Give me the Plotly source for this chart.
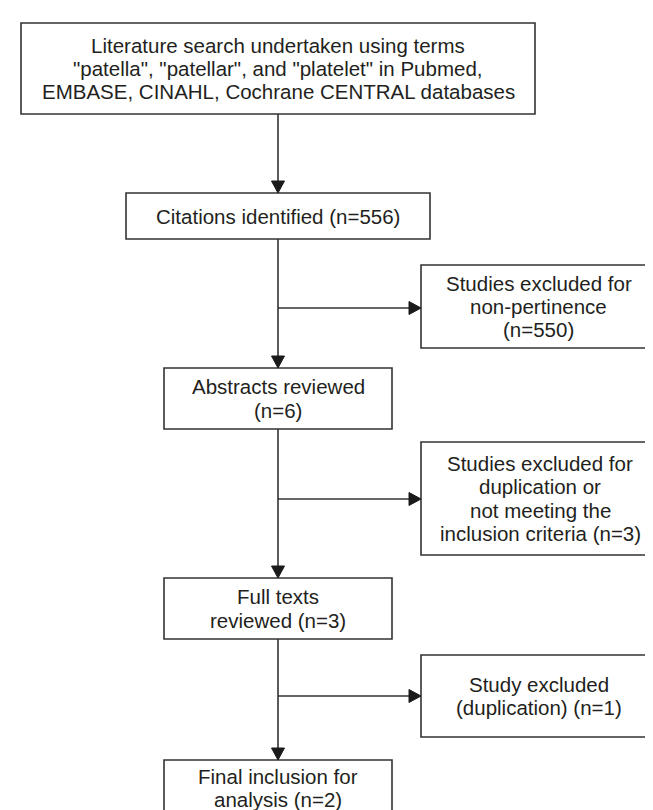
import plotly.graph_objects as go

# ---- content (texts and counts) ----
stage_labels = [
    ["Literature search undertaken using terms",
     "\"patella\", \"patellar\", and \"platelet\" in Pubmed,",
     "EMBASE, CINAHL, Cochrane CENTRAL databases"],
    ["Citations identified (n=556)"],
    ["Abstracts reviewed", "(n=6)"],
    ["Full texts", "reviewed (n=3)"],
    ["Final inclusion for", "analysis (n=2)"],
]
excluded_labels = [
    ["Studies excluded for", "non-pertinence", "(n=550)"],
    ["Studies excluded for", "duplication or", "not meeting the", "inclusion criteria (n=3)"],
    ["Study excluded", "(duplication) (n=1)"],
]
record_counts = [556, 6, 3, 2]
excluded_counts = [550, 3, 1]

# ---- layout (pixel geometry) ----
W, H = 653, 810
main_boxes = [(13, 527, 15, 106), (118, 422, 185, 231), (156, 384, 360, 421),
              (156, 384, 570, 631), (156, 384, 752, 808)]
excl_boxes = [(413, 648, 257, 340), (413, 651, 434, 547), (413, 648, 647, 729)]
branch_y = [300, 491, 688]
spine_x = 270

FONT = "Liberation Sans, Arial, sans-serif"
FSIZE = 20.5
LINE_H = 23.4
TXT = "#231f20"
LINE = "#333333"

fig = go.Figure()
shapes = []
annotations = []


def add_box(b, lines):
    x0, x1, y0, y1 = b
    shapes.append(dict(type="rect", x0=x0, x1=x1, y0=y0, y1=y1,
                       line=dict(color=LINE, width=1.6), fillcolor="white",
                       xref="x", yref="y", layer="below"))
    cy = (y0 + y1) / 2
    n = len(lines)
    for i, t in enumerate(lines):
        y = cy + (i - (n - 1) / 2) * LINE_H
        annotations.append(dict(x=(x0 + x1) / 2, y=y, text=t, showarrow=False,
                                xref="x", yref="y", xanchor="center", yanchor="middle",
                                font=dict(family=FONT, size=FSIZE, color=TXT)))


def add_arrow(x0, y0, x1, y1, head=12, half=6.5):
    # line from (x0,y0) to tip (x1,y1); straight vertical/horizontal
    if x0 == x1:
        d = 1 if y1 > y0 else -1
        by = y1 - d * head
        shapes.append(dict(type="line", x0=x0, x1=x0, y0=y0, y1=by,
                           line=dict(color=LINE, width=1.6), xref="x", yref="y"))
        path = f"M {x1-half},{by} L {x1+half},{by} L {x1},{y1} Z"
    else:
        d = 1 if x1 > x0 else -1
        bx = x1 - d * head
        shapes.append(dict(type="line", x0=x0, x1=bx, y0=y0, y1=y0,
                           line=dict(color=LINE, width=1.6), xref="x", yref="y"))
        path = f"M {bx},{y1-half} L {bx},{y1+half} L {x1},{y1} Z"
    shapes.append(dict(type="path", path=path, fillcolor="#1a1a1a",
                       line=dict(color="#1a1a1a", width=1), xref="x", yref="y"))


for b, lab in zip(main_boxes, stage_labels):
    add_box(b, lab)
for b, lab in zip(excl_boxes, excluded_labels):
    add_box(b, lab)

# vertical spine arrows between main boxes
for a, b in zip(main_boxes[:-1], main_boxes[1:]):
    add_arrow(spine_x, a[3], spine_x, b[2])

# branch arrows to exclusion boxes
for y, b in zip(branch_y, excl_boxes):
    add_arrow(spine_x, y, b[0], y)

fig.add_trace(go.Scatter(x=[0, W], y=[0, H], mode="markers",
                         marker=dict(opacity=0), hoverinfo="skip", showlegend=False))

fig.update_layout(
    width=W, height=H,
    margin=dict(l=0, r=0, t=0, b=0),
    paper_bgcolor="white", plot_bgcolor="white",
    xaxis=dict(range=[0, W], visible=False, fixedrange=True),
    yaxis=dict(range=[H, 0], visible=False, fixedrange=True),
    shapes=shapes, annotations=annotations,
    showlegend=False,
)

fig.write_html("out.html")
